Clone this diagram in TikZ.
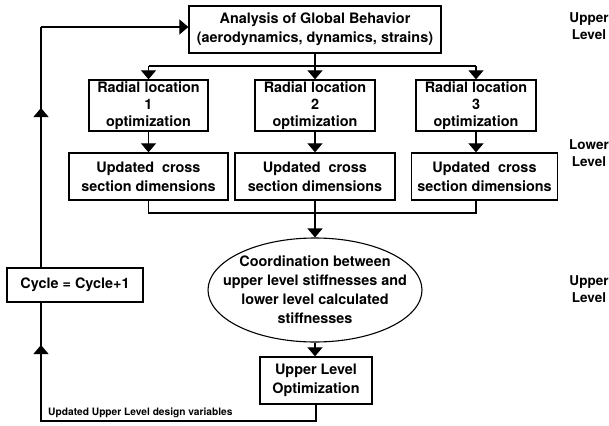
\documentclass[tikz,border=0pt]{standalone}
\usepackage{fontspec}
\setmainfont{TeX Gyre Heros}
\usetikzlibrary{arrows.meta,shapes.geometric}
\begin{document}
\begin{tikzpicture}[x=1pt,y=-1pt,
  font=\fontsize{14.4}{19}\selectfont\bfseries,
  box/.style={draw,line width=1.3pt,align=center,inner sep=0pt},
  tight/.style={font=\fontsize{14.4}{16.8}\selectfont\bfseries},
  conn/.style={line width=1.2pt},
  tip/.style={-{Triangle[width=15pt,length=9pt]}},
  side/.style={align=center,font=\fontsize{13.5}{17.5}\selectfont\bfseries},
]
\useasboundingbox (0,0) rectangle (609,425);

% main boxes
\node[box,minimum width=252pt,minimum height=47pt] (glob) at (315,29.5)
  {Analysis of Global Behavior\\(aerodynamics, dynamics, strains)};

\node[box,tight,minimum width=119pt,minimum height=51pt] (r1) at (148.5,105.5)
  {Radial location\\1\\optimization};
\node[box,tight,minimum width=120pt,minimum height=51pt] (r2) at (315,105.5)
  {Radial location\\2\\optimization};
\node[box,tight,minimum width=120pt,minimum height=51pt] (r3) at (476,105.5)
  {Radial location\\3\\optimization};

\node[box,minimum width=159pt,minimum height=47pt] (u1) at (148.5,176.5)
  {Updated\ \ cross\\section dimensions};
\node[box,minimum width=160pt,minimum height=47pt] (u2) at (315,176.5)
  {Updated\ \ cross\\section dimensions};
\node[box,minimum width=146pt,minimum height=47pt] (u3) at (484.5,176.5)
  {Updated\ \ cross\\section dimensions};

% the ellipse is kept at a fixed size; the text reaches close to its rim
\node[draw,ellipse,line width=1.1pt,align=center,inner xsep=-20pt,inner ysep=-4pt,
      minimum width=214pt,minimum height=104pt] (coord) at (315,290)
  {Coordination between\\upper level stiffnesses and\\lower level calculated\\stiffnesses};

\node[box,minimum width=112pt,minimum height=47pt] (ulo) at (316,380.5)
  {Upper Level\\Optimization};

\node[box,minimum width=136pt,minimum height=34pt] (cyc) at (75,285)
  {Cycle = Cycle+1};

% level labels
\node[side] (lvA) at (589,26) {Upper\\Level};
\node[side] (lvB) at (589,153) {Lower\\Level};
\node[side] (lvC) at (589,289) {Upper\\Level};

% branch from global analysis to the radial optimizations
\coordinate (brY) at (0,66);
\draw[conn] (glob.south) -- (glob.south |- brY);
\draw[conn] (r1.north |- brY) -- (r3.north |- brY);
\draw[conn,tip] (r1.north |- brY) -- (r1.north);
\draw[conn,tip] (r2.north |- brY) -- (r2.north);
\draw[conn,tip] (r3.north |- brY) -- (r3.north);

% radial optimization to updated dimensions
\draw[conn,tip] (r1.south) -- (r1.south |- u1.north);
\draw[conn,tip] (r2.south) -- (r2.south |- u2.north);
\draw[conn,tip] (r3.south) -- (r3.south |- u3.north);

% merge into coordination
\coordinate (mgY) at (0,213);
\draw[conn] (r1.south |- u1.south) -- (r1.south |- mgY) -- (r3.south |- mgY) -- (r3.south |- u3.south);
\draw[conn] (r2.south |- u2.south) -- (r2.south |- mgY);
\draw[conn,tip] (r2.south |- mgY) -- (coord.north);

% coordination to upper level optimization
\draw[conn,tip] (coord.south) -- (coord.south |- ulo.north);

% feedback loop
\coordinate (loopL) at (41,421);
\coordinate (loopT) at (41,27);
\coordinate (upA) at (41,108);
\coordinate (upB) at (41,345);
\draw[conn] (ulo.south) -- (ulo.south |- loopL) -- (loopL) -- (loopL |- cyc.south);
\draw[conn,tip] (loopL) -- (upB);
\draw[conn] (loopT |- cyc.north) -- (loopT);
\draw[conn,tip] (loopT |- cyc.north) -- (upA);
\draw[conn,tip] (loopT) -- (loopT -| glob.west);

\node[anchor=south west,inner sep=0pt,font=\fontsize{10.2}{12}\selectfont\bfseries] (lbl) at (48,418)
  {Updated Upper Level design variables};
\end{tikzpicture}
\end{document}
